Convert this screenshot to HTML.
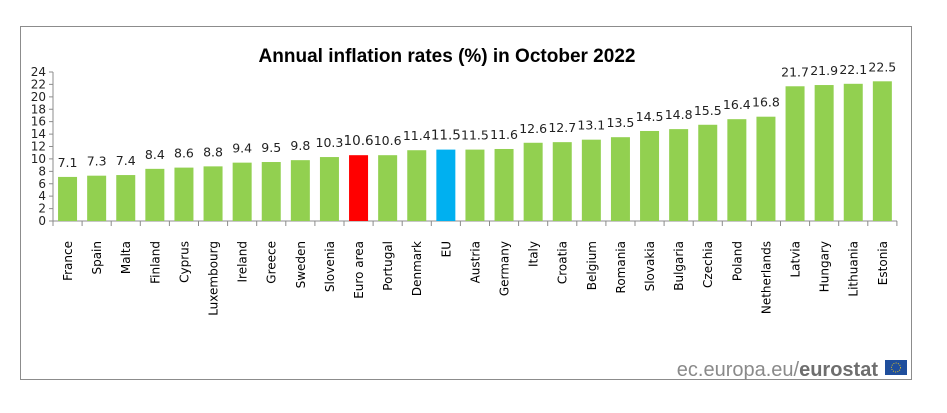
<!DOCTYPE html>
<html><head><style>body{margin:0;background:#fff}svg{display:block}</style></head><body>
<svg width="947" height="413" xmlns="http://www.w3.org/2000/svg" font-family="'DejaVu Sans','Liberation Sans',sans-serif">
<rect x="20.5" y="26.5" width="891" height="353" fill="#fff" stroke="#8c8c8c" stroke-width="1"/>
<text x="447" y="62" text-anchor="middle" font-family="'Liberation Sans',sans-serif" font-weight="bold" font-size="19" fill="#000">Annual inflation rates (%) in October 2022</text>
<line x1="53" y1="72" x2="53" y2="221" stroke="#8c8c8c"/>
<line x1="49" y1="221" x2="897" y2="221" stroke="#8c8c8c"/>
<line x1="51" y1="71.5" x2="51" y2="222" stroke="#8c8c8c" stroke-width="4" stroke-dasharray="1 11.4167"/>
<line x1="52.5" y1="223.5" x2="898" y2="223.5" stroke="#8c8c8c" stroke-width="5" stroke-dasharray="1 28.1"/>
<g font-size="12" fill="#222" text-anchor="end">
<text x="46" y="225">0</text><text x="46" y="212.6">2</text><text x="46" y="200.2">4</text><text x="46" y="187.8">6</text><text x="46" y="175.3">8</text><text x="46" y="162.9">10</text><text x="46" y="150.5">12</text><text x="46" y="138.1">14</text><text x="46" y="125.7">16</text><text x="46" y="113.3">18</text><text x="46" y="100.8">20</text><text x="46" y="88.4">22</text><text x="46" y="76">24</text>
</g>
<g fill="#92d050">
<rect x="58.05" y="176.92" width="19" height="44.08"/>
<rect x="87.15" y="175.68" width="19" height="45.32"/>
<rect x="116.25" y="175.06" width="19" height="45.94"/>
<rect x="145.35" y="168.85" width="19" height="52.15"/>
<rect x="174.45" y="167.61" width="19" height="53.39"/>
<rect x="203.55" y="166.37" width="19" height="54.63"/>
<rect x="232.65" y="162.64" width="19" height="58.36"/>
<rect x="261.75" y="162.02" width="19" height="58.98"/>
<rect x="290.85" y="160.16" width="19" height="60.84"/>
<rect x="319.95" y="157.05" width="19" height="63.95"/>
<rect x="349.05" y="155.19" width="19" height="65.81" fill="#ff0000"/>
<rect x="378.15" y="155.19" width="19" height="65.81"/>
<rect x="407.25" y="150.22" width="19" height="70.78"/>
<rect x="436.35" y="149.6" width="19" height="71.4" fill="#00b0f0"/>
<rect x="465.45" y="149.6" width="19" height="71.4"/>
<rect x="494.55" y="148.98" width="19" height="72.02"/>
<rect x="523.65" y="142.77" width="19" height="78.23"/>
<rect x="552.75" y="142.15" width="19" height="78.85"/>
<rect x="581.85" y="139.67" width="19" height="81.33"/>
<rect x="610.95" y="137.19" width="19" height="83.81"/>
<rect x="640.05" y="130.98" width="19" height="90.02"/>
<rect x="669.15" y="129.12" width="19" height="91.88"/>
<rect x="698.25" y="124.77" width="19" height="96.23"/>
<rect x="727.35" y="119.18" width="19" height="101.82"/>
<rect x="756.45" y="116.7" width="19" height="104.3"/>
<rect x="785.55" y="86.28" width="19" height="134.72"/>
<rect x="814.65" y="85.04" width="19" height="135.96"/>
<rect x="843.75" y="83.8" width="19" height="137.2"/>
<rect x="872.85" y="81.31" width="19" height="139.69"/>
</g>
<g font-size="12.5" fill="#222" text-anchor="middle" transform="translate(0,-2)">
<text x="67.55" y="168.9">7.1</text>
<text x="96.65" y="167.7">7.3</text>
<text x="125.75" y="167.1">7.4</text>
<text x="154.85" y="160.9">8.4</text>
<text x="183.95" y="159.6">8.6</text>
<text x="213.05" y="158.4">8.8</text>
<text x="242.15" y="154.6">9.4</text>
<text x="271.25" y="154">9.5</text>
<text x="300.35" y="152.2">9.8</text>
<text x="329.45" y="149">10.3</text>
<text x="358.55" y="147.2" font-size="13.5">10.6</text>
<text x="387.65" y="147.2">10.6</text>
<text x="416.75" y="142.2">11.4</text>
<text x="445.85" y="141.6" font-size="13.5">11.5</text>
<text x="474.95" y="141.6">11.5</text>
<text x="504.05" y="141">11.6</text>
<text x="533.15" y="134.8">12.6</text>
<text x="562.25" y="134.1">12.7</text>
<text x="591.35" y="131.7">13.1</text>
<text x="620.45" y="129.2">13.5</text>
<text x="649.55" y="123">14.5</text>
<text x="678.65" y="121.1">14.8</text>
<text x="707.75" y="116.8">15.5</text>
<text x="736.85" y="111.2">16.4</text>
<text x="765.95" y="108.7">16.8</text>
<text x="795.05" y="78.3">21.7</text>
<text x="824.15" y="77">21.9</text>
<text x="853.25" y="75.8">22.1</text>
<text x="882.35" y="73.3">22.5</text>
</g>
<g font-size="12" fill="#000" text-anchor="end">
<text transform="translate(72,241) rotate(-90)">France</text>
<text transform="translate(101.1,241) rotate(-90)">Spain</text>
<text transform="translate(130.2,241) rotate(-90)">Malta</text>
<text transform="translate(159.3,241) rotate(-90)">Finland</text>
<text transform="translate(188.4,241) rotate(-90)">Cyprus</text>
<text transform="translate(217.5,241) rotate(-90)">Luxembourg</text>
<text transform="translate(246.6,241) rotate(-90)">Ireland</text>
<text transform="translate(275.7,241) rotate(-90)">Greece</text>
<text transform="translate(304.8,241) rotate(-90)">Sweden</text>
<text transform="translate(333.9,241) rotate(-90)">Slovenia</text>
<text transform="translate(363,241) rotate(-90)">Euro area</text>
<text transform="translate(392.1,241) rotate(-90)">Portugal</text>
<text transform="translate(421.2,241) rotate(-90)">Denmark</text>
<text transform="translate(450.3,241) rotate(-90)">EU</text>
<text transform="translate(479.4,241) rotate(-90)">Austria</text>
<text transform="translate(508.5,241) rotate(-90)">Germany</text>
<text transform="translate(537.6,241) rotate(-90)">Italy</text>
<text transform="translate(566.7,241) rotate(-90)">Croatia</text>
<text transform="translate(595.8,241) rotate(-90)">Belgium</text>
<text transform="translate(624.9,241) rotate(-90)">Romania</text>
<text transform="translate(654,241) rotate(-90)">Slovakia</text>
<text transform="translate(683.1,241) rotate(-90)">Bulgaria</text>
<text transform="translate(712.2,241) rotate(-90)">Czechia</text>
<text transform="translate(741.3,241) rotate(-90)">Poland</text>
<text transform="translate(770.4,241) rotate(-90)">Netherlands</text>
<text transform="translate(799.5,241) rotate(-90)">Latvia</text>
<text transform="translate(828.6,241) rotate(-90)">Hungary</text>
<text transform="translate(857.7,241) rotate(-90)">Lithuania</text>
<text transform="translate(886.8,241) rotate(-90)">Estonia</text>
</g>
<text x="878" y="376" text-anchor="end" font-family="'Liberation Sans',sans-serif" font-size="20" fill="#8a8a8a">ec.europa.eu/<tspan font-weight="bold" fill="#6e6e6e">eurostat</tspan></text>
<rect x="885" y="360" width="22" height="15" fill="#1f4e9c"/>
<circle cx="896" cy="367.5" r="4.5" fill="none" stroke="#e0c020" stroke-width="1" stroke-dasharray="1 1.3"/>
</svg>
</body></html>
